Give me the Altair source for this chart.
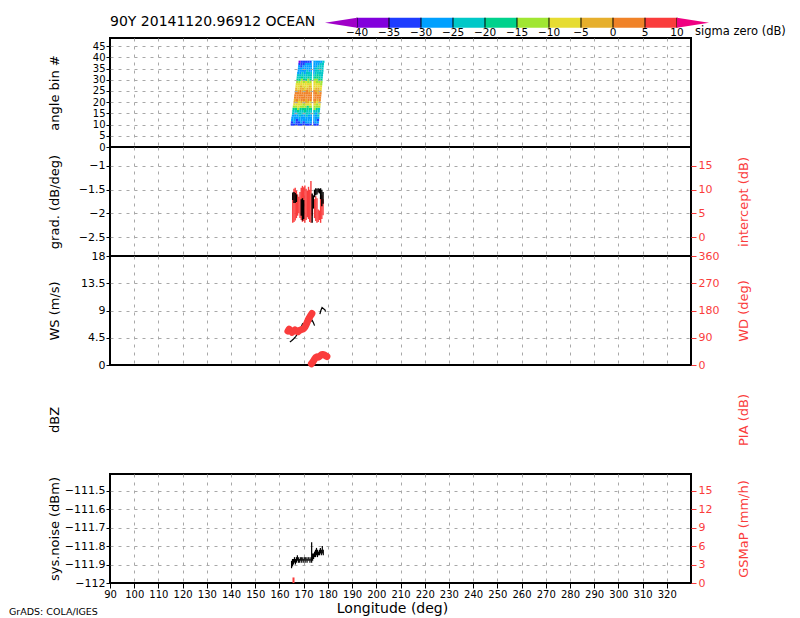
import altair as alt
import pandas as pd

FONT = "DejaVu Sans"
RED = "#fa3c3c"
GRID = "#a8a8a8"
W, H = 581, 109
HEAD_H = 28
FMT = ".6~g"

# ---------------- texts ----------------
title_text = "90Y 20141120.96912 OCEAN"
legend_title = "sigma zero (dB)"
credit_text = "GrADS: COLA/IGES"

# ---------------- colour bar ----------------
sigma0_thresholds = [-40, -35, -30, -25, -20, -15, -10, -5, 0, 5, 10]
sigma0_colors = ["#a000c8", "#8200dc", "#1e3cff", "#00a0ff", "#00c8c8", "#00d28c",
                 "#a0e632", "#e6dc32", "#e6af2d", "#f08228", "#fa3c3c", "#f00082"]
lon_ticks = list(range(90, 330, 10))

# ---------------- panel 1: sigma zero swath ----------------
angle_bins = list(range(10, 39))
swath_west = [164.6, 164.7, 164.8, 164.9, 165.1, 165.2, 165.3, 165.4, 165.5, 165.7,
              165.8, 165.9, 166.0, 166.1, 166.3, 166.4, 166.5, 166.6, 166.7, 166.9,
              167.0, 167.1, 167.2, 167.3, 167.5, 167.6, 167.7, 167.8, 167.9]
swath_east = [176.2, 176.3, 176.4, 176.5, 176.5, 176.6, 176.7, 176.8, 176.9, 177.0,
              177.0, 177.1, 177.2, 177.3, 177.4, 177.4, 177.5, 177.6, 177.7, 177.8,
              177.8, 177.9, 178.0, 178.1, 178.2, 178.2, 178.3, 178.4, 178.6]
sigma0_rows = [
    "bbbbbbbbbbbb",  # 10
    "blbblblllbll",  # 11
    "llbllllllllb",  # 12
    "llllllllllll",  # 13
    "lllcllcllllc",  # 14
    "clcccccccclc",  # 15
    "ccgccgcccccc",  # 16
    "ggyggggggygc",  # 17
    "yyYyyygyyyyy",  # 18
    "YYYYyYYYYYyY",  # 19
    "ooYooooYooYo",  # 20
    "oOoOOoOOOOoO",  # 21
    "OOOOOOOOOOOO",  # 22
    "OOOOOOOOOOOO",  # 23
    "OOOOOOOOOOoO",  # 24
    "ooOooOooOooo",  # 25
    "oYooYoooYooY",  # 26
    "YYoYYYoYYYYY",  # 27
    "YYYYYYYYYYYy",  # 28
    "yyYyYyyYYyyy",  # 29
    "ggyggyggyygg",  # 30
    "ccgccgccgggc",  # 31
    "cccccccccgcc",  # 32
    "llclccclcccc",  # 33
    "llllclllcccc",  # 34
    "llllllllcccc",  # 35
    "lblllllllccc",  # 36
    "bbblllllllcc",  # 37
    "pbbbbblllllc",  # 38
]
code_sigma0 = {"p": -37.5, "b": -32.5, "l": -27.5, "c": -22.5, "g": -17.5,
               "y": -12.5, "Y": -7.5, "o": -2.5, "O": 2.5, "r": 7.5}
missing_scan_lon = [173.7]

# ---------------- panel 2: gradient / intercept ----------------
grad_lon = [165.5, 166.0, 166.5, 167.0, 169.0, 169.5, 170.0, 173.5, 174.0, 174.5,
            175.0, 175.5, 176.0, 176.5, 177.0, 177.5, 178.0]
grad_hi = [-1.56, -1.55, -1.57, -1.60, -1.70, -1.68, -1.72, -1.58, -1.62, -1.50,
           -1.47, -1.48, -1.47, -1.48, -1.47, -1.50, -1.55]
grad_lo = [-1.72, -1.78, -1.78, -1.76, -2.05, -2.15, -2.12, -2.20, -1.90, -1.66,
           -1.62, -1.60, -1.56, -1.58, -1.70, -1.85, -1.80]

int_lon = [165.5, 166.0, 166.5, 167.0, 167.5, 168.0, 168.5, 169.0, 169.5, 170.0,
           170.5, 171.0, 171.5, 172.0, 172.5, 173.0, 173.5, 174.5, 175.0, 175.5,
           176.0, 176.5, 177.0, 177.5, 178.0]
int_hi = [9.0, 10.2, 10.4, 9.8, 9.0, 8.5, 9.5, 10.4, 10.8, 10.5,
          10.9, 10.2, 9.8, 10.6, 10.0, 11.8, 9.0, 8.0, 8.6, 8.2,
          5.8, 5.6, 8.4, 8.8, 8.0]
int_lo = [3.0, 3.2, 3.5, 4.0, 4.5, 5.0, 4.0, 3.6, 3.2, 3.4,
          3.0, 3.6, 4.2, 3.8, 3.2, 3.0, 4.5, 4.0, 3.4, 3.0,
          3.2, 3.6, 3.0, 3.8, 4.6]

# ---------------- panel 3: wind speed / direction ----------------
ws_lon = [164.3, 165.0, 165.8, 166.7, 167.5, 168.5, 169.5, 170.1, 170.8, 171.5,
          172.2, 173.0, 173.5, 174.0, 174.5,
          176.7, 177.1, 177.6, 178.2, 178.8, 179.0]
ws_val = [3.8, 4.0, 4.3, 4.7, 5.2, 5.8, 6.8, 6.5, 6.9, 7.1,
          7.3, 7.2, 7.4, 7.0, 6.5,
          8.4, 9.0, 9.5, 9.3, 9.1, 8.8]
ws_seg = [0] * 15 + [1] * 6

wd_lon = [163.5, 164.0, 164.6, 165.2, 165.8, 166.4, 167.0, 167.6, 168.2, 168.8,
          169.4, 170.0, 170.6, 171.2, 171.8, 172.4, 173.0, 173.4,
          173.2, 173.8, 174.4, 175.0, 175.6, 176.2, 176.8, 177.4, 178.0, 178.6,
          179.2, 179.6]
wd_val = [112, 118, 114, 108, 112, 116, 112, 110, 114, 116,
          118, 120, 126, 136, 148, 157, 165, 170,
          4, 10, 18, 25, 27, 26, 30, 34, 35, 33,
          30, 28]
wd_seg = [0] * 18 + [1] * 12

# ---------------- panel 5: system noise / GSMaP ----------------
noise_lon = [165.0, 165.4, 165.8, 166.2, 166.6, 167.0, 167.4, 167.8, 168.2, 168.6,
             169.0, 169.4, 169.8, 170.2, 170.6, 171.0, 171.4, 171.8, 172.2, 172.6,
             173.0, 173.3, 173.7, 174.1, 174.5, 174.9, 175.3, 175.7, 176.1, 176.5,
             176.9, 177.3, 177.7, 178.1]
noise_lo = [-111.92, -111.91, -111.90, -111.89, -111.90, -111.89, -111.88, -111.89, -111.89, -111.88,
            -111.89, -111.88, -111.89, -111.88, -111.89, -111.88, -111.89, -111.88, -111.88, -111.89,
            -111.88, -111.89, -111.88, -111.87, -111.86, -111.86, -111.85, -111.86, -111.85, -111.85,
            -111.84, -111.85, -111.84, -111.85]
noise_hi = [-111.88, -111.87, -111.87, -111.86, -111.87, -111.86, -111.85, -111.86, -111.87, -111.86,
            -111.86, -111.86, -111.87, -111.86, -111.86, -111.86, -111.87, -111.86, -111.86, -111.87,
            -111.86, -111.78, -111.84, -111.84, -111.83, -111.82, -111.81, -111.82, -111.83, -111.82,
            -111.81, -111.82, -111.80, -111.82]
gsmap_lon = [165.8]
gsmap_val = [0.9]

# ================= build =================
color_scale = alt.Scale(type="threshold", domain=sigma0_thresholds, range=sigma0_colors)
xs = alt.Scale(domain=[90, 330], nice=False, zero=False)
DASH = [3, 5]


def xaxis(bottom=False):
    kw = dict(values=lon_ticks, grid=True, gridColor=GRID, gridDash=DASH, gridWidth=1,
              gridOpacity={"condition": {"test": "datum.value <= 90", "value": 0}, "value": 1},
              domain=False, labelOverlap=False, labelFlush=False, format=FMT)
    if bottom:
        kw.update(ticks=True, tickSize=5, tickColor="black", labels=True, labelFontSize=10,
                  labelPadding=1, title="Longitude (deg)", titleFontSize=14, titleX=282,
                  titleY=25, titleBaseline="middle", titleAlign="center")
    else:
        kw.update(ticks=False, labels=False, title=None)
    return alt.Axis(**kw)


def left_axis(values, title, hide_test=None, zindex=0, label_size=11):
    op = 1
    if hide_test:
        op = {"condition": {"test": hide_test, "value": 0}, "value": 1}
    return alt.Axis(values=values, format=FMT, orient="left", title=title, titleX=-56,
                    titleY=H / 2, titleAngle=270, titleAlign="center", titleBaseline="middle",
                    titleFontSize=13, domain=False, ticks=True, tickSize=4, tickColor="black",
                    labelPadding=1, labelFontSize=label_size, labelOverlap=False, grid=True,
                    gridColor=GRID, gridDash=DASH, gridOpacity=op, zindex=zindex)


def right_axis(values, title):
    return alt.Axis(values=values, format=FMT, orient="right", title=title, titleX=52.5,
                    titleY=H / 2, titleAngle=270, titleAlign="center", titleBaseline="middle",
                    titleFontSize=13, titleColor=RED, domain=False, ticks=True, tickSize=5,
                    tickColor=RED, labelColor=RED, labelPadding=2, labelFontSize=11,
                    labelOverlap=False, grid=False)


def title_axis(title, orient, color):
    return alt.Axis(orient=orient, title=title, titleX=(-56 if orient == "left" else 52.5),
                    titleY=H / 2, titleAngle=270, titleAlign="center", titleBaseline="middle",
                    titleFontSize=13, titleColor=color, domain=False, ticks=False,
                    labels=False, grid=False)


# ---- header (title + colour bar)
hx = alt.Scale(domain=[-78.594, 12.19], nice=False, zero=False)
cb = pd.DataFrame({"lo": sigma0_thresholds[:-1], "hi": sigma0_thresholds[1:]})
cb["mid"] = (cb["lo"] + cb["hi"]) / 2
LEFT_TRI = "M-1,0L1,-0.31L1,0.31Z"
RIGHT_TRI = "M1,0L-1,-0.31L-1,0.31Z"
cb_ends = pd.DataFrame({"x": [-42.5, 12.5], "shape": [LEFT_TRI, RIGHT_TRI]})
cb_labels = pd.DataFrame({"x": sigma0_thresholds,
                          "label": [str(t).replace("-", "\u2212") for t in sigma0_thresholds]})

h_ltitle = alt.Chart(pd.DataFrame({"t": [legend_title]})).mark_text(
    font=FONT, fontSize=11.5, align="left", baseline="middle").encode(
    x=alt.value(585), y=alt.value(21.5), text="t:N")
h_boxes = alt.Chart(cb).mark_rect().encode(
    x=alt.X("lo:Q", scale=hx, axis=None), x2="hi:Q",
    y=alt.value(7.7), y2=alt.value(17.7),
    color=alt.Color("mid:Q", scale=color_scale, legend=None))
h_seps = alt.Chart(cb_labels).mark_rule(color="black", strokeWidth=1).encode(
    x=alt.X("x:Q", scale=hx, axis=None), y=alt.value(7.7), y2=alt.value(17.7))
h_ends = alt.Chart(cb_ends).mark_point(filled=True, size=1024, opacity=1).encode(
    x=alt.X("x:Q", scale=hx, axis=None), y=alt.value(12.7),
    shape=alt.Shape("shape:N", scale=None),
    color=alt.Color("x:Q", scale=color_scale, legend=None))
h_labels = alt.Chart(cb_labels).mark_text(font=FONT, fontSize=10.5, baseline="middle").encode(
    x=alt.X("x:Q", scale=hx, axis=None), y=alt.value(23), text="label:N")
h_title = alt.Chart(pd.DataFrame({"t": [title_text]})).mark_text(
    font=FONT, fontSize=14, align="left", baseline="middle").encode(
    x=alt.value(0), y=alt.value(12), text="t:N")
header = alt.layer(h_ltitle, h_boxes, h_seps, h_ends, h_labels, h_title).properties(
    width=W, height=HEAD_H, view=alt.ViewBackground(stroke="transparent"))

# ---- panel 1
cells = []
for b, w, e, codes in zip(angle_bins, swath_west, swath_east, sigma0_rows):
    step = (e - w) / len(codes)
    for i, c in enumerate(codes):
        cells.append({"lon0": w + i * step, "lon1": w + (i + 1) * step,
                      "b0": b - 0.5, "b1": b + 0.5, "sigma0": code_sigma0[c]})
cells = pd.DataFrame(cells)
y1 = alt.Scale(domain=[0, 48.6], nice=False, zero=False)
ax1 = left_axis(list(range(0, 46, 5)), "angle bin #", "datum.value == 0", zindex=1,
                label_size=10)
p1_cells = alt.Chart(cells).mark_rect().encode(
    x=alt.X("lon0:Q", scale=xs, axis=xaxis()), x2="lon1:Q",
    y=alt.Y("b0:Q", scale=y1, axis=ax1),
    y2="b1:Q",
    color=alt.Color("sigma0:Q", scale=color_scale, legend=None))
gap = pd.DataFrame({"lon": missing_scan_lon, "b0": [angle_bins[0] - 0.5],
                    "b1": [angle_bins[-1] + 0.5]})
p1_gap = alt.Chart(gap).mark_rule(color="white", strokeWidth=1.2).encode(
    x=alt.X("lon:Q", scale=xs, axis=xaxis()),
    y=alt.Y("b0:Q", scale=y1, axis=ax1), y2="b1:Q")
panel1 = alt.layer(p1_cells, p1_gap).properties(width=W, height=H)

# ---- panel 2
grad_df = pd.DataFrame({"lon": grad_lon, "hi": grad_hi, "lo": grad_lo})
int_df = pd.DataFrame({"lon": int_lon, "hi": int_hi, "lo": int_lo})
p2_int = alt.Chart(int_df).mark_rule(color=RED, strokeWidth=1.4).encode(
    x=alt.X("lon:Q", scale=xs, axis=xaxis()),
    y=alt.Y("hi:Q", scale=alt.Scale(domain=[-4, 19], nice=False, zero=False),
            axis=right_axis([0, 5, 10, 15], "intercept (dB)")),
    y2="lo:Q")
p2_grad = alt.Chart(grad_df).mark_rule(color="black", strokeWidth=1.4).encode(
    x=alt.X("lon:Q", scale=xs, axis=xaxis()),
    y=alt.Y("hi:Q", scale=alt.Scale(domain=[-2.9, -0.6], nice=False, zero=False),
            axis=left_axis([-2.5, -2, -1.5, -1], "grad. (dB/deg)")),
    y2="lo:Q")
panel2 = alt.layer(p2_int, p2_grad).resolve_scale(y="independent").properties(width=W, height=H)

# ---- panel 3
ws_df = pd.DataFrame({"lon": ws_lon, "v": ws_val, "seg": ws_seg})
wd_df = pd.DataFrame({"lon": wd_lon, "v": wd_val, "seg": wd_seg})
p3_ws = alt.Chart(ws_df).mark_line(color="black", strokeWidth=1.2).encode(
    x=alt.X("lon:Q", scale=xs, axis=xaxis()),
    y=alt.Y("v:Q", scale=alt.Scale(domain=[0, 18], nice=False, zero=False),
            axis=left_axis([0, 4.5, 9, 13.5, 18], "WS (m/s)",
                           "datum.value == 0 || datum.value == 18")),
    detail="seg:N")
p3_wd = alt.Chart(wd_df).mark_line(color=RED, strokeWidth=7, strokeCap="round",
                                   strokeJoin="round").encode(
    x=alt.X("lon:Q", scale=xs, axis=xaxis()),
    y=alt.Y("v:Q", scale=alt.Scale(domain=[0, 360], nice=False, zero=False),
            axis=right_axis([0, 90, 180, 270, 360], "WD (deg)")),
    detail="seg:N")
panel3 = alt.layer(p3_ws, p3_wd).resolve_scale(y="independent").properties(width=W, height=H)

# ---- panel 4 (empty: dBZ / PIA)
holder = pd.DataFrame({"v": [0.5]})
p4_l = alt.Chart(holder).mark_point(opacity=0).encode(
    y=alt.Y("v:Q", scale=alt.Scale(domain=[0, 1]), axis=title_axis("dBZ", "left", "black")))
p4_r = alt.Chart(holder).mark_point(opacity=0).encode(
    y=alt.Y("v:Q", scale=alt.Scale(domain=[0, 1]), axis=title_axis("PIA (dB)", "right", RED)))
panel4 = alt.layer(p4_l, p4_r).resolve_scale(y="independent").properties(
    width=W, height=H, view=alt.ViewBackground(stroke="transparent"))

# ---- panel 5
noise_df = pd.DataFrame({"lon": noise_lon, "hi": noise_hi, "lo": noise_lo})
gsmap_df = pd.DataFrame({"lon": gsmap_lon, "v": gsmap_val, "z": [0] * len(gsmap_lon)})
p5_noise = alt.Chart(noise_df).mark_rule(color="black", strokeWidth=1.2).encode(
    x=alt.X("lon:Q", scale=xs, axis=xaxis(bottom=True)),
    y=alt.Y("hi:Q", scale=alt.Scale(domain=[-112, -111.41], nice=False, zero=False),
            axis=left_axis([-112, -111.9, -111.8, -111.7, -111.6, -111.5], "sys.noise (dBm)",
                           "datum.value <= -112")),
    y2="lo:Q")
p5_gsmap = alt.Chart(gsmap_df).mark_rule(color=RED, strokeWidth=2).encode(
    x=alt.X("lon:Q", scale=xs, axis=xaxis(bottom=True)),
    y=alt.Y("v:Q", scale=alt.Scale(domain=[0, 17.7], nice=False, zero=False),
            axis=right_axis([0, 3, 6, 9, 12, 15], "GSMaP (mm/h)")),
    y2="z:Q")
p5_credit = alt.Chart(pd.DataFrame({"t": [credit_text]})).mark_text(
    font=FONT, fontSize=9.5, align="left", baseline="middle").encode(
    x=alt.value(-101), y=alt.value(H + 29), text="t:N")
panel5 = alt.layer(p5_noise, p5_gsmap, p5_credit).resolve_scale(y="independent").properties(
    width=W, height=H)

chart = alt.vconcat(header, panel1, panel2, panel3, panel4, panel5, spacing=0, bounds="flush")
chart = chart.resolve_scale(x="independent", y="independent", color="independent")
chart = chart.properties(padding={"left": 0, "top": 1, "right": 0, "bottom": 0})
chart = chart.configure_view(stroke="black", strokeWidth=2).configure_axis(
    labelFont=FONT, titleFont=FONT, titleFontWeight="normal", labelColor="black",
    titleColor="black")

chart.save("out.html", embed_options={"renderer": "svg", "actions": False})
